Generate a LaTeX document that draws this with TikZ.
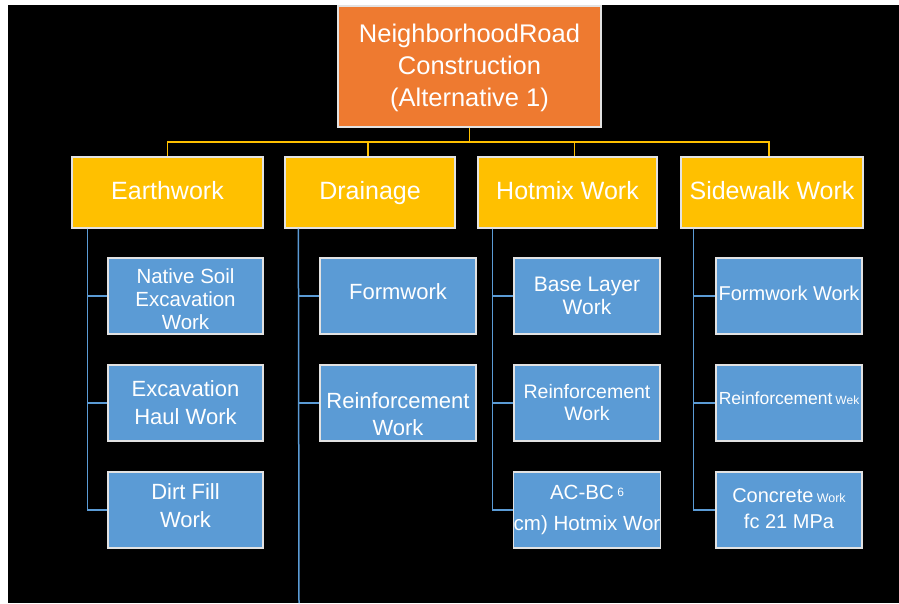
\documentclass[tikz,border=0pt]{standalone}
\usepackage{fontspec}
\setmainfont{Liberation Sans}
\definecolor{wbsorange}{HTML}{EE7A30}
\definecolor{wbsyellow}{HTML}{FFC000}
\definecolor{wbsblue}{HTML}{5B9BD5}
\definecolor{wbsedge}{HTML}{E2E2E2}
\newcommand{\fsz}[2]{\fontsize{#1}{#2}\selectfont}
% struts to nudge a box's text down or up
\newcommand{\pushdown}[1]{\rule{0pt}{#1}}
\newcommand{\pushup}[1]{\rule[-#1]{0pt}{0pt}}

\begin{document}
\begin{tikzpicture}[x=1pt, y=-1pt,
    box/.style={draw=wbsedge, line width=1.2pt, fill=#1, text=white,
                align=center, inner sep=0pt},
    rootbox/.style={box=wbsorange, minimum width=263, minimum height=121,
                    font=\fsz{25.5}{32}},
    phasebox/.style={box=wbsyellow, minimum height=71, font=\fsz{25}{30},
                     text height=18, text depth=5},
    taskbox/.style={box=wbsblue, minimum height=76, font=\fsz{21}{26}},
    busline/.style={draw=wbsyellow, line width=1.5pt},
    treeline/.style={draw=wbsblue, line width=1.5pt},
]
    % page and black slide
    \useasboundingbox (0,0) rectangle (899,603);
    \fill[white] (0,0) rectangle (899,603);
    \fill[black] (8,5) rectangle (899,603);

    % top level
    \node[rootbox] (root) at (469.5,66.5) {\pushdown{22pt}NeighborhoodRoad\\Construction\\(Alternative 1)};

    % phases
    \node[phasebox, minimum width=191] (earth)  at (167.5,192.5) {Earthwork};
    \node[phasebox, minimum width=170] (drain)  at (370,192.5)   {Drainage};
    \node[phasebox, minimum width=179] (hotmix) at (567.5,192.5) {Hotmix Work};
    \node[phasebox, minimum width=182] (side)   at (772,192.5)   {Sidewalk Work};

    % earthwork tasks
    \node[taskbox, minimum width=155, font=\fsz{20.5}{23}] (earthA) at (185.5,296)
        {\pushdown{21pt}Native Soil\\Excavation\\Work};
    \node[taskbox, minimum width=155, font=\fsz{22}{28}] (earthB) at (185.5,403) {Excavation\\Haul Work};
    \node[taskbox, minimum width=155, font=\fsz{22}{28}] (earthC) at (185.5,510)
        {Dirt Fill\\Work\pushup{8pt}};

    % drainage tasks
    \node[taskbox, minimum width=156, font=\fsz{22}{27}] (drainA) at (398,296) {Formwork\pushup{8pt}};
    \node[taskbox, minimum width=156, font=\fsz{22}{27}] (drainB) at (398,403)
        {\pushdown{38pt}Reinforcement\\Work};

    % hotmix tasks
    \node[taskbox, minimum width=146, font=\fsz{21}{23}] (hotmixA) at (587,296) {Base Layer\\Work};
    \node[taskbox, minimum width=146, font=\fsz{19.5}{22}] (hotmixB) at (587,403) {Reinforcement\\Work};
    \node[taskbox, minimum width=146, font=\fsz{20.5}{31}] (hotmixC) at (587,510)
        {AC-BC\,{\fsz{12}{14}\raisebox{3pt}{6}}\\cm) Hotmix Wor};

    % sidewalk tasks
    \node[taskbox, minimum width=146, font=\fsz{20}{26}] (sideA) at (789,296) {Formwork Work\pushup{6pt}};
    \node[taskbox, minimum width=146, font=\fsz{17.5}{22}] (sideB) at (789,403)
        {Reinforcement\,{\fsz{12}{14}Wek}\pushup{10pt}};
    \node[taskbox, minimum width=146, font=\fsz{20}{26}] (sideC) at (789,510)
        {Concrete\,{\fsz{12.5}{14}Work}\\fc 21 MPa\pushup{3pt}};

    % yellow bus
    \coordinate (bus) at (469.5,142);
    \draw[busline] (root.south) -- (bus);
    \draw[busline] (bus) -| (earth.north);
    \draw[busline] (bus) -| ([xshift=-2]drain.north);
    \draw[busline] (bus) -| ([xshift=7]hotmix.north);
    \draw[busline] (bus) -| ([xshift=-3]side.north);

    % blue trees
    \foreach \task in {earthA, earthB, earthC}
        \draw[treeline] ([xshift=16]earth.south west) |- (\task.west);
    \foreach \task in {drainA, drainB}
        \draw[treeline] ([xshift=14]drain.south west) |- (\task.west);
    \coordinate (drainEnd) at (299,603);
    \draw[treeline] ([xshift=14]drain.south west) -- (drainEnd);
    \foreach \task in {hotmixA, hotmixB, hotmixC}
        \draw[treeline] ([xshift=15]hotmix.south west) |- (\task.west);
    \foreach \task in {sideA, sideB, sideC}
        \draw[treeline] ([xshift=13]side.south west) |- (\task.west);
\end{tikzpicture}
\end{document}
